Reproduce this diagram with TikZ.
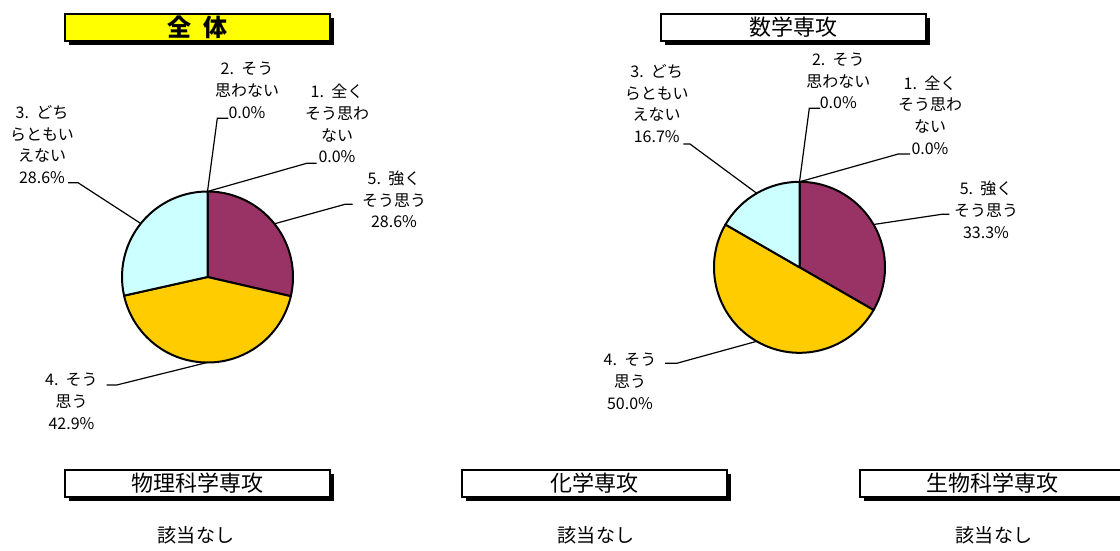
\documentclass[tikz,border=0pt]{standalone}
\usepackage{fontspec}
\setmainfont{Noto Sans CJK JP}
\usetikzlibrary{shadows}
\definecolor{pmaroon}{HTML}{993366}
\definecolor{pyellow}{HTML}{FFCC00}
\definecolor{pcyan}{HTML}{CCFFFF}
\definecolor{tyellow}{HTML}{FFFF00}
\tikzset{
  slice/.style={draw=black, line width=1.5pt, line join=round},
  leader/.style={draw=black, line width=0.9pt},
  lbl/.style={align=center, inner sep=0pt, font=\fontsize{12pt}{16.3pt}\selectfont},
  titlebox/.style={draw=black, line width=1.6pt, fill=white, minimum width=198.75pt,
     minimum height=20.25pt, inner sep=0pt, font=\fontsize{16.5pt}{18pt}\selectfont,
     general shadow={fill=black, shadow xshift=2.8pt, shadow yshift=-2.8pt}},
  nonetext/.style={inner sep=0pt, font=\fontsize{14.3pt}{16pt}\selectfont}
}
\begin{document}
\begin{tikzpicture}[x=0.75pt, y=-0.75pt]
\useasboundingbox (0,0) rectangle (1120,550);
\clip (0,0) rectangle (1120,550);

% ---------- Title boxes ----------
\node[titlebox, fill=tyellow, font=\fontsize{18pt}{20pt}\selectfont\bfseries] (t0) at (197.5,27.5) {全\hspace{0.5em}体};
\node[titlebox] (t1) at (793.5,27.5) {数学専攻};
\node[titlebox] (t2) at (197.5,483.5) {物理科学専攻};
\node[titlebox] (t3) at (594.5,483.5) {化学専攻};
\node[titlebox] (t4) at (992.5,483.5) {生物科学専攻};

\node[nonetext] (n2) at (196,535) {該当なし};
\node[nonetext] (n3) at (596,535) {該当なし};
\node[nonetext] (n4) at (994,535) {該当なし};

% ---------- Pie 1 (全体) ----------
\coordinate (p1c) at (207.5,277);
\path[slice, fill=pmaroon] (p1c) -- ([shift={(-90:85.5)}]p1c) arc[start angle=-90, end angle=13, radius=85.5] -- cycle;
\path[slice, fill=pyellow] (p1c) -- ([shift={(13:85.5)}]p1c) arc[start angle=13, end angle=167.4, radius=85.5] -- cycle;
\path[slice, fill=pcyan] (p1c) -- ([shift={(167.4:85.5)}]p1c) arc[start angle=167.4, end angle=270, radius=85.5] -- cycle;

\node[lbl] (a1) at (337,123.5) {1.\hspace{0.45em}全く\\そう思わ\\ない\\0.0\%};
\node[lbl] (a2) at (247,90.5) {2.\hspace{0.45em}そう\\思わない\\0.0\%};
\node[lbl] (a3) at (42,144.5) {3.\hspace{0.45em}どち\\らともい\\えない\\28.6\%};
\node[lbl] (a4) at (71.5,401.5) {4.\hspace{0.45em}そう\\思う\\42.9\%};
\node[lbl] (a5) at (394,199.5) {5.\hspace{0.45em}強く\\そう思う\\28.6\%};

\coordinate (a1p) at (207.5,191.5);
\coordinate (a1k) at (306.7,163.3);
\coordinate (a1e) at (316.7,163.3);
\coordinate (a2k) at (217.3,118.3);
\coordinate (a2e) at (228.3,118.3);
\coordinate (a3p) at (140.8,223.5);
\coordinate (a3k) at (78,182.7);
\coordinate (a3e) at (68,182.7);
\coordinate (a4p) at (207.2,362.5);
\coordinate (a4k) at (116.7,385);
\coordinate (a4e) at (106.7,385);
\coordinate (a5p) at (274.4,223.8);
\coordinate (a5k) at (345,204.3);
\coordinate (a5e) at (352.7,204.3);
\draw[leader] (a1p) -- (a1k) -- (a1e);
\draw[leader] (a1p) -- (a2k) -- (a2e);
\draw[leader] (a3p) -- (a3k) -- (a3e);
\draw[leader] (a4p) -- (a4k) -- (a4e);
\draw[leader] (a5p) -- (a5k) -- (a5e);

% ---------- Pie 2 (数学専攻) ----------
\coordinate (p2c) at (799.5,267.3);
\path[slice, fill=pmaroon] (p2c) -- ([shift={(-90:85.5)}]p2c) arc[start angle=-90, end angle=30, radius=85.5] -- cycle;
\path[slice, fill=pyellow] (p2c) -- ([shift={(30:85.5)}]p2c) arc[start angle=30, end angle=210, radius=85.5] -- cycle;
\path[slice, fill=pcyan] (p2c) -- ([shift={(210:85.5)}]p2c) arc[start angle=210, end angle=270, radius=85.5] -- cycle;

\node[lbl] (b1) at (930,115) {1.\hspace{0.45em}全く\\そう思わ\\ない\\0.0\%};
\node[lbl] (b2) at (838.3,81) {2.\hspace{0.45em}そう\\思わない\\0.0\%};
\node[lbl] (b3) at (656.7,103.5) {3.\hspace{0.45em}どち\\らともい\\えない\\16.7\%};
\node[lbl] (b4) at (630,381.3) {4.\hspace{0.45em}そう\\思う\\50.0\%};
\node[lbl] (b5) at (986,209.8) {5.\hspace{0.45em}強く\\そう思う\\33.3\%};

\coordinate (b1p) at (799.5,181.8);
\coordinate (b1k) at (898.3,154);
\coordinate (b1e) at (910,154);
\coordinate (b2k) at (809.3,108.3);
\coordinate (b2e) at (820,108.3);
\coordinate (b3p) at (756.75,193.3);
\coordinate (b3k) at (690,144);
\coordinate (b3e) at (683.3,144);
\coordinate (b4p) at (756.75,341.3);
\coordinate (b4k) at (676.7,363.3);
\coordinate (b4e) at (665,363.3);
\coordinate (b5p) at (873.5,224.5);
\coordinate (b5k) at (941.7,214.3);
\coordinate (b5e) at (949.3,214.3);
\draw[leader] (b1p) -- (b1k) -- (b1e);
\draw[leader] (b1p) -- (b2k) -- (b2e);
\draw[leader] (b3p) -- (b3k) -- (b3e);
\draw[leader] (b4p) -- (b4k) -- (b4e);
\draw[leader] (b5p) -- (b5k) -- (b5e);
\end{tikzpicture}
\end{document}
